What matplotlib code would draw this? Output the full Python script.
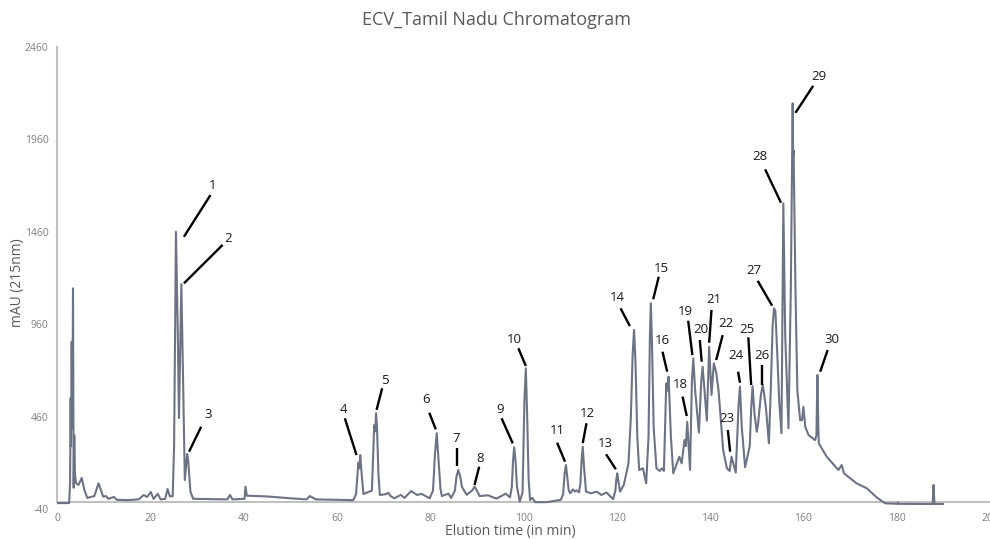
import matplotlib
matplotlib.use("Agg")
import matplotlib.pyplot as plt

plt.rcParams['font.family'] = ['Open Sans', 'DejaVu Sans']

# ---- traced chromatogram (elution time in min, absorbance in mAU) ----
time_min = [
    0.0, 2.6, 2.8, 2.93, 3.0, 3.15, 3.3, 3.43, 3.57, 3.7, 3.85, 4.07, 4.6, 5.3, 5.9, 6.5,
    8.0, 8.9, 9.9, 10.5, 11.0, 12.2, 12.8, 15.0, 17.5, 18.6, 19.3, 20.1, 20.7, 21.6, 22.2,
    23.2, 23.7, 24.2, 24.8, 25.1, 25.5, 25.9, 26.15, 26.65, 27.0, 27.4, 27.7, 27.9, 28.1,
    28.6, 29.2, 36.5, 37.1, 37.6, 40.2, 40.4, 40.7, 45.0, 50.0, 53.5, 54.2, 55.5, 63.5,
    64.1, 64.6, 64.8, 65.0, 65.3, 65.7, 67.5, 68.0, 68.2, 68.4, 68.6, 68.9, 69.2, 70.5,
    71.0, 71.5, 72.3, 73.7, 74.5, 75.9, 77.2, 78.1, 79.9, 80.6, 81.0, 81.4, 81.8, 82.2,
    82.5, 83.9, 84.5, 85.3, 85.6, 86.0, 86.4, 86.8, 87.8, 89.0, 89.5, 90.0, 90.6, 92.4,
    94.2, 96.2, 97.1, 97.5, 97.75, 98.0, 98.3, 98.6, 99.2, 99.8, 100.2, 100.5, 100.8,
    101.1, 101.4, 101.9, 102.5, 105.0, 108.0, 108.5, 108.8, 109.1, 109.4, 109.7, 110.0,
    110.6, 111.0, 111.4, 111.9, 112.2, 112.45, 112.7, 113.0, 113.4, 114.5, 115.7, 116.7,
    117.8, 119.2, 119.7, 119.9, 120.1, 120.35, 120.7, 121.5, 122.5, 123.0, 123.4, 123.7,
    124.0, 124.4, 124.8, 125.6, 126.3, 126.8, 127.1, 127.3, 127.55, 127.9, 128.5, 129.2,
    129.7, 130.1, 130.6, 130.85, 131.1, 131.6, 132.1, 133.4, 133.9, 134.5, 134.8, 135.1,
    135.7, 136.1, 136.4, 136.8, 137.6, 138.1, 138.4, 138.8, 139.3, 139.8, 140.3, 140.8,
    141.3, 141.8, 142.8, 143.6, 144.2, 144.6, 145.5, 146.1, 146.4, 146.8, 147.5, 148.5,
    148.8, 149.1, 149.5, 150.0, 150.3, 150.9, 151.3, 151.7, 152.0, 152.6, 153.0, 153.4,
    153.7, 154.0, 154.4, 154.8, 155.3, 155.7, 156.1, 156.8, 157.3, 157.7, 157.8, 157.9,
    158.3, 158.7, 159.3, 159.7, 160.0, 160.4, 161.1, 162.5, 162.8, 163.0, 163.2, 163.3,
    165.0, 167.5, 168.2, 168.7, 171.4, 173.6, 175.7, 177.5, 180.2, 180.3, 180.4, 187.7,
    187.9, 188.1, 189.9,
]
absorbance_mau = [
    -8, -8, 100, 561, 300, 865, 400, 1154, 75, 360, 150, 100, 90, 128, 60, 20,
    30, 99, 27, 30, 15, 25, 10, 8, 12, 36, 25, 52, 15, 42, 12,
    15, 68, 28, 30, 300, 1460, 900, 452, 1177, 700, 117, 200, 258, 230,
    54, 15, 12, 36, 12, 15, 81, 32, 28, 18, 12, 30, 12, 8,
    40, 210, 180, 252, 150, 41, 60, 414, 380, 478, 400, 150, 36, 40,
    48, 30, 18, 36, 20, 57, 36, 42, 18, 60, 250, 370, 220, 70,
    30, 43, 20, 60, 130, 171, 140, 80, 37, 60, 81, 60, 30, 34,
    16, 43, 23, 80, 220, 294, 220, 80, 0, 50, 550, 721, 450,
    120, 9, 20, -3, -3, 10, 40, 150, 198, 130, 60, 45,
    66, 55, 61, 50, 100, 220, 297, 180, 54, 45, 54, 36,
    49, 13, 60, 120, 153, 110, 54, 90, 207, 450, 800, 929,
    760, 350, 171, 180, 99, 350, 900, 1073, 850, 400, 180, 166,
    180, 166, 640, 600, 676, 350, 153, 243, 207, 333, 300, 432,
    171, 650, 775, 600, 373, 650, 730, 600, 438, 838, 577, 748,
    700, 604, 279, 180, 166, 243, 157, 520, 622, 400, 186, 300,
    500, 625, 480, 378, 424, 580, 631, 560, 500, 315, 600, 950,
    1046, 1030, 800, 550, 370, 1614, 900, 397, 1145, 2155, 1866, 1900,
    1145, 604, 441, 441, 513, 405, 360, 333, 360, 685, 400, 315,
    243, 171, 198, 153, 99, 72, 23, -9, -12, -5, -12, -13,
    90, -13, -13,
]

# ---- peak labels and their leader lines ----
peak_labels = [str(i) for i in range(1, 31) if i != 17]
label_xy = [
    (33.3, 1713), (36.6, 1425), (32.4, 469), (61.4, 496), (70.3, 658), (79.2, 554),
    (85.5, 339), (90.7, 231), (95.0, 501), (98.0, 878), (107.3, 384), (113.7, 478),
    (117.5, 312), (120.0, 1106), (129.5, 1262), (129.8, 871), (133.7, 636),
    (134.8, 1028), (138.0, 929), (140.9, 1091), (143.3, 965), (143.5, 451), (145.5, 793),
    (148.0, 932), (151.2, 788), (149.3, 1249), (150.7, 1870), (163.4, 2299), (166.2, 878),
]
leader_from = [
    (32.9, 1659), (35.5, 1389), (30.9, 405), (61.7, 451), (69.7, 613), (79.8, 481),
    (85.7, 288), (90.5, 189), (95.3, 451), (98.9, 830), (107.2, 319), (113.5, 424),
    (117.7, 256), (120.8, 1046), (129.0, 1217), (129.8, 811), (134.1, 568),
    (135.3, 979), (137.8, 874), (140.3, 1037), (142.7, 901), (143.8, 387), (146.0, 703),
    (148.2, 889), (151.2, 739), (150.2, 1195), (151.8, 1798), (162.1, 2250), (165.2, 820),
]
leader_to = [
    (27.2, 1433), (27.2, 1181), (28.3, 270), (64.2, 252), (68.5, 496), (81.2, 391),
    (85.7, 193), (89.5, 90), (97.7, 315), (100.5, 734), (108.9, 216), (112.7, 316),
    (119.8, 175), (122.8, 950), (127.8, 1095), (130.8, 703), (135.0, 463),
    (136.2, 793), (138.2, 757), (139.8, 860), (141.3, 766), (144.3, 270), (146.4, 643),
    (148.8, 631), (151.2, 631), (153.3, 1060), (155.2, 1617), (158.3, 2104), (163.6, 703),
]

y_ticks = [-40, 460, 960, 1460, 1960, 2460]
x_ticks = [0, 20, 40, 60, 80, 100, 120, 140, 160, 180, 200]

fig = plt.figure(figsize=(9.9, 5.4), dpi=100)
ax = fig.add_axes([57 / 990, 1 - 509 / 540, 1 - 57 / 990, (509 - 47) / 540])

ax.plot(time_min, absorbance_mau, color='#6e7384', lw=1.5, solid_joinstyle='round', zorder=3)

for lab, (tx, ty), (x0, y0), (x1, y1) in zip(peak_labels, label_xy, leader_from, leader_to):
    ax.plot([x0, x1], [y0, y1], color='black', lw=1.7, solid_capstyle='butt', zorder=4)
    ax.text(tx, ty, lab, ha='center', va='center', fontsize=9.5, color='#1a1a1a', zorder=5)

ax.set_xlim(0, 200)
ax.set_ylim(-40, 2460)
ax.set_yticks(y_ticks)
ax.set_yticklabels([str(v) for v in y_ticks])
ax.set_xticks(x_ticks)
ax.set_xticklabels([str(v) for v in x_ticks])
ax.tick_params(axis='both', length=0, labelsize=7.5, labelcolor='#7f7f7f')
ax.tick_params(axis='y', pad=6)
ax.tick_params(axis='x', pad=3)

for s in ['top', 'right', 'bottom']:
    ax.spines[s].set_visible(False)
ax.spines['left'].set_color('#c0c0c0')
ax.spines['left'].set_linewidth(1.5)
ax.spines['left'].set_bounds(0, 2460)
ax.axhline(0, color='#c0c0c0', lw=1.5, zorder=2)

fig.text(0.502, 1 - 20 / 540, 'ECV_Tamil Nadu Chromatogram', ha='center', va='center',
         fontsize=13, color='#595959')
fig.text(510 / 990, 1 - 531 / 540, 'Elution time (in min)', ha='center', va='center',
         fontsize=10, color='#595959')
fig.text(18 / 990, 1 - 283 / 540, 'mAU (215nm)', ha='center', va='center',
         rotation=90, fontsize=10, color='#595959')

fig.savefig('out.png', dpi=100)
